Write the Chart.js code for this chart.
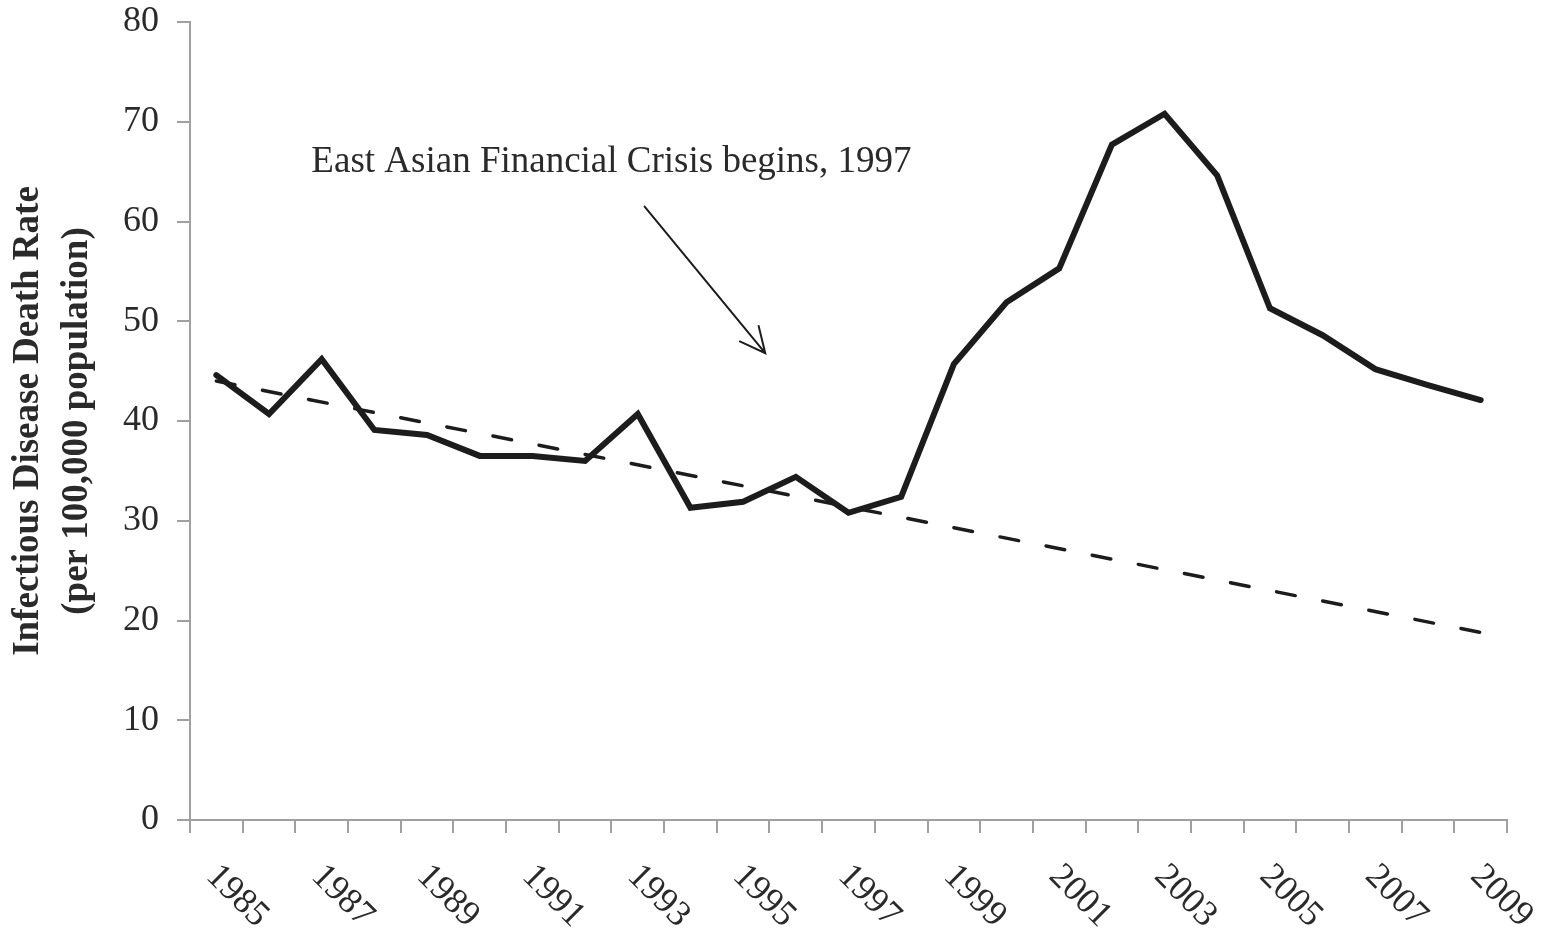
<!DOCTYPE html>
<html lang="en">
<head>
    <meta charset="UTF-8">
    <title>Infectious Disease Death Rate</title>
    <script src="https://cdn.jsdelivr.net/npm/chart.js"></script>
    <style>
        html, body {
            margin: 0;
            padding: 0;
            background: #fff;
        }
        #wrap {
            width: 1553px;
            height: 929px;
        }
    </style>
</head>
<body>
    <div id="wrap">
        <canvas id="deathChart"></canvas>
    </div>

    <script>
        // data
        const years = ['1985', '1986', '1987', '1988', '1989', '1990', '1991', '1992', '1993',
            '1994', '1995', '1996', '1997', '1998', '1999', '2000', '2001', '2002', '2003',
            '2004', '2005', '2006', '2007', '2008', '2009'];
        const deathRate = [44.6, 40.7, 46.2, 39.1, 38.6, 36.5, 36.5, 36.0, 40.7,
            31.3, 31.9, 34.4, 30.8, 32.4, 45.7, 51.9, 55.3, 67.7, 70.8,
            64.6, 51.3, 48.6, 45.2, 43.6, 42.1];
        // straight pre-crisis trend, only the two ends are given
        const trendLine = [44.0, null, null, null, null, null, null, null, null,
            null, null, null, null, null, null, null, null, null, null,
            null, null, null, null, null, 18.8];
        const yTicks = [0, 10, 20, 30, 40, 50, 60, 70, 80];
        const shownYears = ['1985', '1987', '1989', '1991', '1993', '1995', '1997', '1999',
            '2001', '2003', '2005', '2007', '2009'];

        const noteText = 'East Asian Financial Crisis begins, 1997';
        const noteAt = { x: 7.5, y: 65.9 };
        const arrowFrom = { x: 8.13, y: 61.5 };
        const arrowTo = { x: 10.42, y: 46.8 };

        const serif = "'Liberation Serif', 'DejaVu Serif', serif";
        const axisGrey = '#a0a0a0';
        const ink = '#1c1c1c';

        // rotated year labels + the annotation arrow
        const extrasPlugin = {
            id: 'extras',
            afterDraw(chart) {
                const ctx = chart.ctx;
                const xs = chart.scales.x;
                const ys = chart.scales.y;

                ctx.save();
                ctx.fillStyle = '#2a2a2a';
                ctx.font = '36px ' + serif;
                ctx.textAlign = 'left';
                ctx.textBaseline = 'top';
                shownYears.forEach(label => {
                    const px = xs.getPixelForValue(years.indexOf(label));
                    ctx.save();
                    ctx.translate(px + 8, xs.top + 38);
                    ctx.rotate(Math.PI / 4);
                    ctx.fillText(label, 0, 0);
                    ctx.restore();
                });
                ctx.restore();

                // annotation
                ctx.save();
                ctx.fillStyle = '#2a2a2a';
                ctx.font = '37px ' + serif;
                ctx.textAlign = 'center';
                ctx.textBaseline = 'middle';
                ctx.fillText(noteText, xs.getPixelForValue(noteAt.x), ys.getPixelForValue(noteAt.y));

                const x1 = xs.getPixelForValue(arrowFrom.x), y1 = ys.getPixelForValue(arrowFrom.y);
                const x2 = xs.getPixelForValue(arrowTo.x), y2 = ys.getPixelForValue(arrowTo.y);
                const ang = Math.atan2(y2 - y1, x2 - x1);
                const head = 28;
                ctx.strokeStyle = ink;
                ctx.lineWidth = 2;
                ctx.lineCap = 'round';
                ctx.beginPath();
                ctx.moveTo(x1, y1);
                ctx.lineTo(x2, y2);
                ctx.moveTo(x2 - head * Math.cos(ang - 0.45), y2 - head * Math.sin(ang - 0.45));
                ctx.lineTo(x2, y2);
                ctx.lineTo(x2 - head * Math.cos(ang + 0.45), y2 - head * Math.sin(ang + 0.45));
                ctx.stroke();
                ctx.restore();
            }
        };

        const ctx = document.getElementById('deathChart').getContext('2d');
        new Chart(ctx, {
            type: 'line',
            data: {
                labels: years,
                datasets: [{
                    label: 'Infectious disease death rate',
                    data: deathRate,
                    borderColor: ink,
                    borderWidth: 6,
                    borderJoinStyle: 'miter',
                    borderCapStyle: 'round',
                    pointRadius: 0,
                    tension: 0
                }, {
                    label: 'Trend',
                    data: trendLine,
                    spanGaps: true,
                    borderColor: ink,
                    borderWidth: 3.5,
                    borderDash: [19, 28],
                    borderCapStyle: 'round',
                    pointRadius: 0,
                    tension: 0
                }]
            },
            options: {
                responsive: true,
                maintainAspectRatio: false,
                animation: false,
                layout: {
                    padding: { top: 22, right: 46, left: 0, bottom: 0 }
                },
                plugins: {
                    legend: { display: false },
                    tooltip: { enabled: false }
                },
                scales: {
                    x: {
                        type: 'category',
                        offset: true,
                        grid: {
                            offset: true,
                            drawOnChartArea: false,
                            drawTicks: true,
                            tickLength: 13,
                            color: axisGrey,
                            lineWidth: 2
                        },
                        border: { color: axisGrey, width: 2 },
                        ticks: { display: false, autoSkip: false },
                        afterFit(scale) { scale.height = 109; }
                    },
                    y: {
                        min: 0,
                        max: 80,
                        afterBuildTicks(scale) {
                            scale.ticks = yTicks.map(v => ({ value: v }));
                        },
                        grid: {
                            drawOnChartArea: false,
                            drawTicks: true,
                            tickLength: 13,
                            color: axisGrey,
                            lineWidth: 2
                        },
                        border: { color: axisGrey, width: 2 },
                        ticks: {
                            color: '#2a2a2a',
                            padding: 18,
                            font: { family: serif, size: 36 }
                        },
                        title: {
                            display: true,
                            text: ['Infectious Disease Death Rate', '(per 100,000 population)'],
                            color: '#2a2a2a',
                            padding: { top: 4, bottom: 0 },
                            font: { family: serif, size: 37, weight: 'bold', lineHeight: 1.32 }
                        },
                        afterFit(scale) {
                            scale.width = 190;
                            scale.paddingTop = 0;
                            scale.paddingBottom = 0;
                        }
                    }
                }
            },
            plugins: [extrasPlugin]
        });
    </script>
</body>
</html>
